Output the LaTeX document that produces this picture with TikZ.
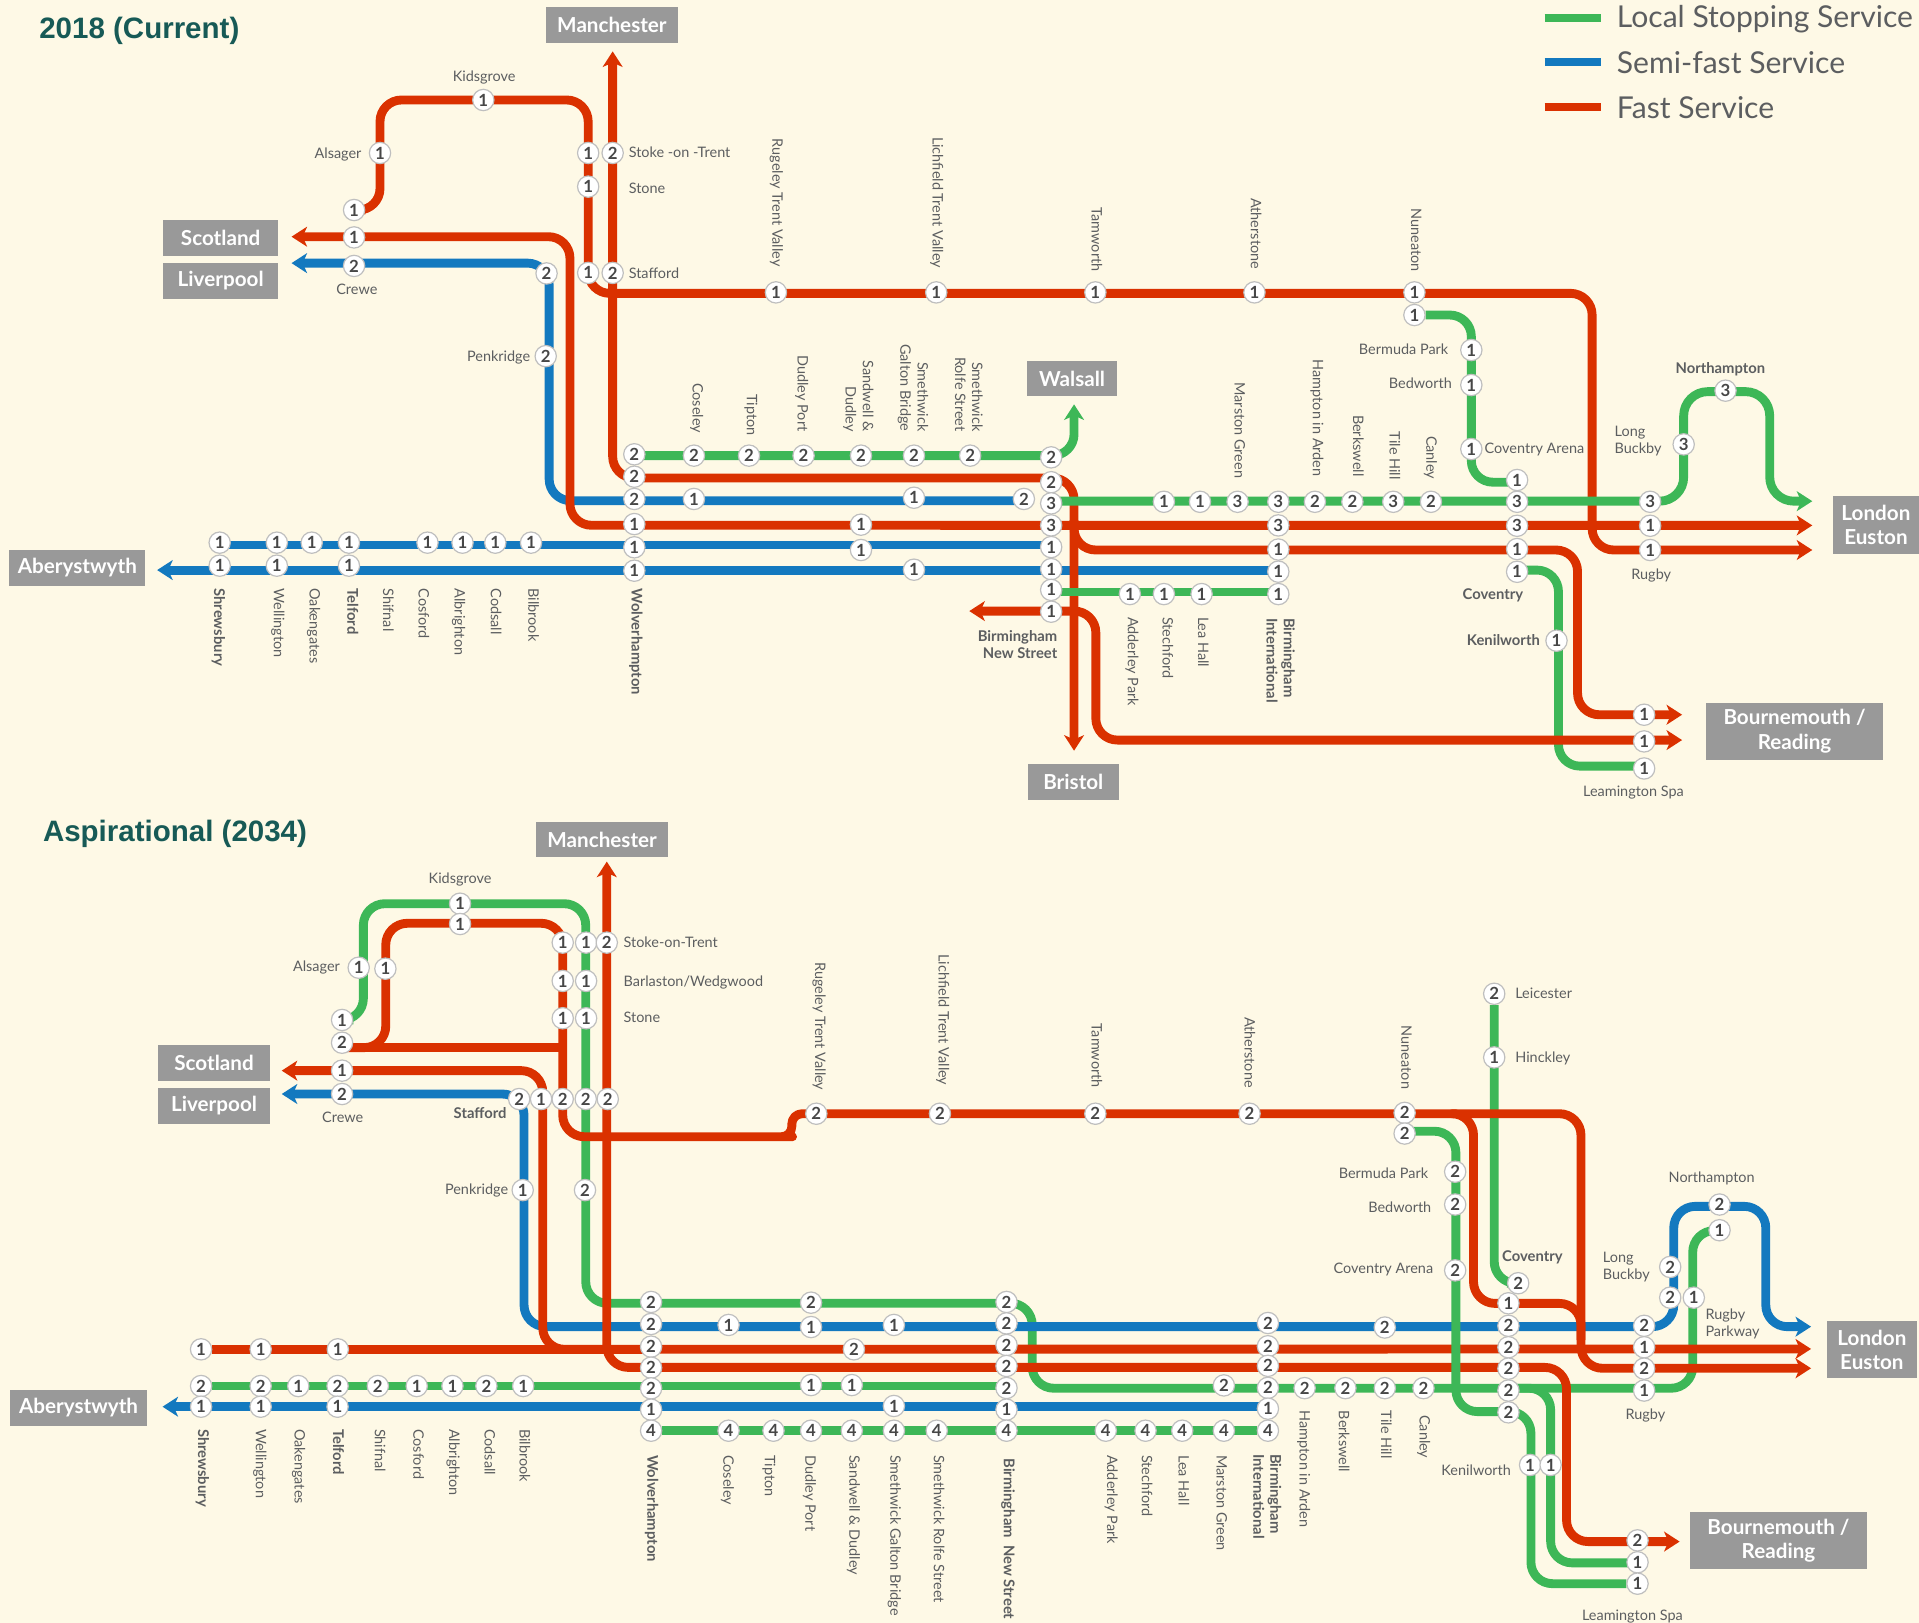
\documentclass[tikz,border=0pt]{standalone}
\usepackage{fontspec}
\setmainfont{Lato}
\newfontfamily\arialfont{Liberation Sans}
\usetikzlibrary{arrows.meta,backgrounds}
\definecolor{paper}{HTML}{FEF9E6}
\definecolor{railred}{HTML}{DA3100}
\definecolor{railblue}{HTML}{1379BF}
\definecolor{railgreen}{HTML}{3DB757}
\definecolor{boxgrey}{HTML}{999999}
\definecolor{titleteal}{HTML}{175A56}
\definecolor{labgrey}{HTML}{5C5E60}
\newcount\labc
\newcommand\lab[4][]{\global\advance\labc by 1 \node[stlabel,#1] (lab\the\labc) at (#2,#3) {#4};}
\newcommand\mk[4]{\node[mark node] (#1) at (#2,#3) {#4};}
\tikzset{
 x=0.05cm,y=-0.05cm,
 mark node/.style={circle,minimum size=24.8pt,inner sep=0pt,fill=white,draw=black!25,line width=1.4pt,font=\fontsize{19.5}{20}\selectfont\bfseries,text=black!72},
 stlabel/.style={inner sep=0pt,yshift=-1.2pt,text=labgrey,font=\fontsize{16.8}{20}\selectfont,text height=11.5pt,text depth=3pt},
 vd/.style={yshift=1.2pt,rotate=-90,anchor=west},
 vu/.style={yshift=1.2pt,rotate=-90,anchor=east},
 strong/.style={font=\fontsize{17.2}{20}\selectfont\bfseries},
 place box/.style={fill=boxgrey,text=white,font=\fontsize{24}{28.5}\selectfont\bfseries,inner sep=0pt,align=center},
 rail/.style={line width=10.3pt,rounded corners=25pt,line join=round},
 railr/.style={rail,draw=railred},
 railb/.style={rail,draw=railblue},
 railg/.style={rail,draw=railgreen},
 tip/.style={-{Stealth[length=18pt,width=23pt,inset=5pt]}},
 tipboth/.style={{Stealth[length=18pt,width=23pt,inset=5pt]}-{Stealth[length=18pt,width=23pt,inset=5pt]}},
 legend line/.style={line width=9.2pt},
 legend text/.style={inner sep=0pt,anchor=west,text=labgrey,font=\fontsize{35}{38}\selectfont},
 headline/.style={inner sep=0pt,anchor=west,text=titleteal,font=\fontsize{34.3}{37}\selectfont\arialfont\bfseries},
}
\begin{document}
\begin{tikzpicture}
\useasboundingbox (0,0) rectangle (1568,1326);
\begin{pgfonlayer}{background}
\fill[paper] (0,0) rectangle (1568,1326);
\end{pgfonlayer}

% ---- titles and legend
\node[headline] (title1) at (32,25.5) {2018 (Current)};
\node[headline] (title2) at (35,681.5) {Aspirational (2034)};
\coordinate (la1) at (1262,14.4); \coordinate (la2) at (1308,14.4);
\coordinate (lb1) at (1262,50.9); \coordinate (lb2) at (1308,50.9);
\coordinate (lc1) at (1262,87.4); \coordinate (lc2) at (1308,87.4);
\draw[legend line,railgreen] (la1) -- (la2);
\draw[legend line,railblue] (lb1) -- (lb2);
\draw[legend line,railred] (lc1) -- (lc2);
\node[legend text] (legA) at (1321,16) {Local Stopping Service};
\node[legend text] (legB) at (1321,51) {Semi-fast Service};
\node[legend text] (legC) at (1321,88) {Fast Service};

% ---- place boxes, top
\node[place box,minimum width=108.3pt*1.417,minimum height=41pt] (bxM) at (500,20.5) {Manchester};
\node[place box,minimum width=133.5pt,minimum height=41.6pt] (bxS) at (180.3,194.5) {Scotland};
\node[place box,minimum width=133.5pt,minimum height=41.6pt] (bxL) at (180.3,229.5) {Liverpool};
\node[place box,minimum width=105.3pt,minimum height=41pt] (bxW) at (876,309.5) {Walsall};
\node[place box,minimum width=158pt,minimum height=41.6pt] (bxA) at (63.2,464) {Aberystwyth};
\node[place box,minimum width=99.8pt,minimum height=66.7pt] (bxE) at (1532.8,428.9) {London\\Euston};
\node[place box,minimum width=205.8pt,minimum height=66.7pt] (bxB) at (1466.3,597.5) {Bournemouth /\\Reading};
\node[place box,minimum width=105.3pt,minimum height=41pt] (bxBr) at (877,639) {Bristol};
% ---- place boxes, bottom
\node[place box,minimum width=153.5pt,minimum height=41pt] (bxM2) at (492,686) {Manchester};
\node[place box,minimum width=131.2pt,minimum height=41.6pt] (bxS2) at (174.9,868.5) {Scotland};
\node[place box,minimum width=131.2pt,minimum height=41.6pt] (bxL2) at (174.9,903.6) {Liverpool};
\node[place box,minimum width=158.7pt,minimum height=41.6pt] (bxA2) at (64.2,1150.3) {Aberystwyth};
\node[place box,minimum width=104.3pt,minimum height=66.2pt] (bxE2) at (1529.5,1103) {London\\Euston};
\node[place box,minimum width=205.2pt,minimum height=66.6pt] (bxB2) at (1453.2,1258.9) {Bournemouth /\\Reading};

% ---- arrow tips
\coordinate (tM) at (500.6,42);
\coordinate (tS) at (238.2,193.4);
\coordinate (tL) at (238.2,215);
\coordinate (tW) at (877.6,330.4);
\coordinate (tA) at (128.4,465.8);
\coordinate (tN) at (792,499.3);
\coordinate (tBr) at (877.6,613.4);
\coordinate (tE1) at (1480.8,409.5);
\coordinate (tE2) at (1480.8,429.3);
\coordinate (tE3) at (1480.8,449.4);
\coordinate (tB1) at (1374.4,584);
\coordinate (tB2) at (1374.4,604.7);
\coordinate (bM) at (495.8,704);
\coordinate (bS) at (230.2,874.8);
\coordinate (bL) at (230.2,893.9);
\coordinate (bA) at (132.8,1149.4);
\coordinate (bE1) at (1479.8,1084);
\coordinate (bE2) at (1479.8,1102.2);
\coordinate (bE3) at (1479.8,1118);
\coordinate (bB) at (1372.4,1259.6);

% ---- markers, top
\mk{tk}{394.9}{81.7}{1}\mk{tal}{310.5}{125}{1}\mk{tcr}{289.3}{171.6}{1}\mk{tsc}{289.3}{194}{1}\mk{tli}{289.3}{217.3}{2}
\mk{ts1}{480.6}{125}{1}\mk{ts2}{500.6}{125}{2}\mk{tst}{480.6}{152.5}{1}\mk{tf1}{480.6}{223}{1}\mk{tf2}{500.6}{223}{2}
\mk{tbl}{446.6}{223.4}{2}\mk{tpe}{445.9}{291}{2}
\mk{tru}{634}{238.9}{1}\mk{tlt}{765}{238.9}{1}\mk{tta}{895}{238.9}{1}\mk{tat}{1025}{238.9}{1}\mk{tnu}{1155.7}{238.9}{1}
\mk{tnv}{1155.7}{257.4}{1}\mk{tbp}{1202.2}{286}{1}\mk{tbd}{1202.2}{314.6}{1}\mk{tca}{1202.2}{366.9}{1}
\mk{tc1}{1239.6}{392.2}{1}\mk{tc2}{1239.6}{410}{3}\mk{tc3}{1239.6}{429.6}{3}\mk{tc4}{1239.6}{448.6}{1}\mk{tc5}{1239.6}{467.2}{1}
\mk{tr1}{1348.3}{410}{3}\mk{tr2}{1348.3}{429.6}{1}\mk{tr3}{1348.3}{449.4}{1}
\mk{tlb}{1375.7}{363.1}{3}\mk{tno}{1409.9}{319.2}{3}
\mk{tke}{1271.8}{523.5}{1}\mk{te1}{1343.4}{584}{1}\mk{te2}{1343.4}{605.8}{1}\mk{te3}{1343.4}{627.9}{1}
\mk{tw1}{518.3}{371.2}{2}\mk{tw2}{518.3}{389.5}{2}\mk{tw3}{518.3}{407.7}{2}\mk{tw4}{518.3}{428.2}{1}\mk{tw5}{518.3}{447.2}{1}\mk{tw6}{518.3}{466.3}{1}
\mk{tg1}{567}{372.3}{2}\mk{tg2}{612}{372.3}{2}\mk{tg3}{656.6}{372.3}{2}\mk{tg4}{703.5}{372.3}{2}\mk{tg5}{746.8}{372.3}{2}\mk{tg6}{792.7}{372.3}{2}
\mk{tn1}{858.9}{373.7}{2}\mk{tn2}{858.9}{394}{2}\mk{tn3}{858.9}{411.3}{3}\mk{tn4}{858.9}{429.3}{3}\mk{tn5}{858.9}{447}{1}\mk{tn6}{858.9}{465}{1}\mk{tn7}{858.9}{482}{1}\mk{tn8}{858.9}{499.8}{1}
\mk{tb1}{567}{407.7}{1}\mk{tb2}{746.8}{406.7}{1}\mk{tb3}{836.6}{407.7}{2}
\mk{tx1}{703.5}{428.7}{1}\mk{tx2}{703.5}{449.4}{1}\mk{tx3}{746.8}{465.5}{1}
\mk{th1}{951}{410}{1}\mk{th2}{980.5}{410}{1}\mk{th3}{1011.2}{410}{3}\mk{th4}{1044.5}{410}{3}\mk{th5}{1074.4}{410}{2}\mk{th6}{1105}{410}{2}\mk{th7}{1138.4}{410}{3}\mk{th8}{1169.2}{410}{2}
\mk{ti1}{1044.5}{429.3}{3}\mk{ti2}{1044.5}{449}{1}\mk{ti3}{1044.5}{467.1}{1}\mk{ti4}{1044.5}{485.4}{1}
\mk{tj1}{923.2}{485.4}{1}\mk{tj2}{951}{485.4}{1}\mk{tj3}{981.8}{485.4}{1}
\mk{ta1}{179.5}{443.4}{1}\mk{ta2}{226.2}{443.4}{1}\mk{ta3}{254.7}{443.4}{1}\mk{ta4}{285.1}{443.4}{1}\mk{ta5}{349.3}{443.4}{1}\mk{ta6}{377.9}{443.4}{1}\mk{ta7}{404.7}{443.4}{1}\mk{ta8}{433.9}{443.4}{1}
\mk{tz1}{179.5}{462.2}{1}\mk{tz2}{226.2}{462.2}{1}\mk{tz3}{285.1}{462.2}{1}

% ---- markers, bottom
\mk{bk1}{375.9}{738.4}{1}\mk{bk2}{375.9}{755}{1}\mk{bal}{293.1}{790.7}{1}\mk{bal2}{314.9}{791.5}{1}
\mk{bcg}{279.5}{833.4}{1}\mk{bcr}{279.5}{852}{2}\mk{bsc}{279.5}{874.8}{1}\mk{bli}{279.5}{893.9}{2}
\mk{bs1}{459.8}{770.2}{1}\mk{bs2}{478.9}{770.2}{1}\mk{bs3}{495.8}{770.2}{2}
\mk{bb1}{459.8}{801.5}{1}\mk{bb2}{478.9}{801.5}{1}\mk{bo1}{459.8}{832}{1}\mk{bo2}{478.9}{832}{1}
\mk{bf1}{424.2}{898}{2}\mk{bf2}{442.1}{898}{1}\mk{bf3}{459.8}{898}{2}\mk{bf4}{478.6}{898}{2}\mk{bf5}{496.6}{898}{2}
\mk{bpe}{427.1}{972.4}{1}\mk{bpg}{478}{972.4}{2}
\mk{bru}{667}{910}{2}\mk{blt}{768}{910}{2}\mk{bta}{895}{910}{2}\mk{bat}{1021}{910}{2}\mk{bnu}{1147.7}{909.3}{2}\mk{bnv}{1147.7}{926.2}{2}
\mk{bbp}{1189}{957.4}{2}\mk{bbd}{1189}{984.2}{2}\mk{bca}{1189}{1038}{2}
\mk{ble}{1220.9}{812}{2}\mk{bhi}{1220.9}{864}{1}\mk{bco}{1240.5}{1048.5}{2}
\mk{bc1}{1232.5}{1064.9}{1}\mk{bc2}{1232.5}{1083.3}{2}\mk{bc3}{1232.5}{1100.8}{2}\mk{bc4}{1232.5}{1118.3}{2}\mk{bc5}{1232.5}{1136.2}{2}\mk{bc6}{1232.5}{1154}{2}
\mk{br1}{1343.4}{1083.3}{2}\mk{br2}{1343.4}{1100.8}{1}\mk{br3}{1343.4}{1118.3}{2}\mk{br4}{1343.4}{1136.2}{1}
\mk{bno}{1405}{984.2}{2}\mk{bno2}{1405}{1005.2}{1}\mk{blb}{1364.7}{1035.2}{2}\mk{blc}{1364.7}{1060.3}{2}\mk{bld}{1384}{1060.3}{1}
\mk{bke1}{1250.2}{1197}{1}\mk{bke2}{1267}{1197}{1}\mk{be1}{1338}{1258.6}{2}\mk{be2}{1338}{1276.5}{1}\mk{be3}{1338}{1294}{1}
\mk{bw1}{532}{1063.8}{2}\mk{bw2}{532}{1081.8}{2}\mk{bw3}{532}{1100.3}{2}\mk{bw4}{532}{1117.5}{2}\mk{bw5}{532}{1134.4}{2}\mk{bw6}{532}{1151.8}{1}\mk{bw7}{532}{1169}{4}
\mk{bn1}{822.4}{1063.8}{2}\mk{bn2}{822.4}{1081.3}{2}\mk{bn3}{822.4}{1099}{2}\mk{bn4}{822.4}{1116.1}{2}\mk{bn5}{822.4}{1134.1}{2}\mk{bn6}{822.4}{1151.8}{1}\mk{bn7}{822.4}{1169}{4}
\mk{bi1}{1036}{1081}{2}\mk{bi2}{1036}{1100}{2}\mk{bi3}{1036}{1116}{2}\mk{bi4}{1036}{1134}{2}\mk{bi5}{1036}{1151}{1}\mk{bi6}{1036}{1169}{4}
\mk{bx1}{662.7}{1064.4}{2}\mk{bx2}{595.3}{1082.6}{1}\mk{bx3}{662.7}{1084.3}{1}\mk{bx4}{730.4}{1082.6}{1}\mk{bx5}{697.7}{1102.5}{2}\mk{bx6}{662.7}{1131.7}{1}\mk{bx7}{696}{1131.7}{1}\mk{bx8}{730.4}{1148.8}{1}
\mk{bx9}{1131.5}{1084.7}{2}
\mk{by1}{595.3}{1169}{4}\mk{by2}{632}{1169}{4}\mk{by3}{662.7}{1169}{4}\mk{by4}{696}{1169}{4}\mk{by5}{730.4}{1169}{4}\mk{by6}{765.4}{1169}{4}\mk{by7}{903.5}{1169}{4}\mk{by8}{936}{1169}{4}\mk{by9}{966}{1169}{4}\mk{by0}{1000}{1169}{4}
\mk{bg1}{1000}{1132}{2}\mk{bg2}{1066}{1134.2}{2}\mk{bg3}{1099.3}{1134.2}{2}\mk{bg4}{1131.5}{1134.2}{2}\mk{bg5}{1163.1}{1134.2}{2}
\mk{bd1}{164.3}{1102.5}{1}\mk{bd2}{213}{1102.5}{1}\mk{bd3}{276}{1102.5}{1}
\mk{ba1}{164.3}{1132.5}{2}\mk{ba2}{213}{1132.5}{2}\mk{ba3}{243.7}{1132.5}{1}\mk{ba4}{275.8}{1132.5}{2}\mk{ba5}{308.7}{1132.5}{2}\mk{ba6}{340.5}{1132.5}{1}\mk{ba7}{369.7}{1132.5}{1}\mk{ba8}{397.4}{1132.5}{2}\mk{ba9}{427.5}{1132.5}{1}
\mk{bz1}{164.3}{1149.4}{1}\mk{bz2}{213}{1149.4}{1}\mk{bz3}{275.8}{1149.4}{1}

% ---- connectors (under the markers)
\begin{pgfonlayer}{background}
% greens that lie under the other lines
\draw[railg] (tc5 |- 0,465.8) -- (1273.4,465.8) -- (1273.4,626) -- (te3 |- 0,626);
\draw[railg] (bcg) -- (296.9,833.4) -- (296.9,738.4) -- (478.6,738.4) -- (478.6,1064.9) -- (843.4,1064.9) -- (843.4,1134.3) -- (1383.1,1134.3) -- (1383.1,1005.5) -- (bno2 |- 0,1005.5);
\draw[railg] (ba1) -- (bn5 |- 0,1132.5);
\draw[railg] (bw7) -- (bi6);
\draw[railg] (ble) -- (1220.9,1048.5) -- (bco);
\draw[railg] (bc5 |- 0,1134.3) -- (1267,1134.3) -- (1267,1277) -- (be2 |- 0,1277);
% blues
\draw[railb,tip] (tb3 |- 0,409.1) -- (448.7,409.1) -- (448.7,215) -- (tL);
\draw[railb] (ta1 |- 0,445.3) -- (tn5 |- 0,445.3);
\draw[railb,tip] (ti3 |- 0,465.8) -- (tA);
\draw[railb,tip] (bi5 |- 0,1149.4) -- (bA);
\draw[railb,tipboth] (bL) -- (428.2,893.9) -- (428.2,1084) -- (1367.6,1084) -- (1367.6,985.7) -- (1442.8,985.7) -- (1442.8,1084) -- (bE1);
% reds, top
\draw[railr,tip] (tcr) -- (310.5,171.6) -- (310.5,81.7) -- (480.6,81.7) -- (480.6,239.7) -- (1300.9,239.7) -- (1300.9,449.4) -- (tE3);
\draw[railr,tipboth] (tM) -- (500.6,390.6) -- (877.6,390.6) -- (tBr);
\draw[railr,tipboth] (tS) -- (465.7,193.4) -- (465.7,429.2) -- (tE2);
\draw[railr,tip] (877.6,425) -- (877.6,449.4) -- (1289,449.4) -- (1289,584) -- (tB1);
\draw[railr,tipboth] (tN) -- (895.4,499.3) -- (895.4,604.7) -- (tB2);
% reds, bottom
\draw[railr,tip] (bcr |- 0,856) -- (315.2,856) -- (315.2,754.4) -- (459.8,754.4) -- (459.8,928.8) -- (630,928.8) [rounded corners=12pt] -- (647,928.8) -- (647,910) [rounded corners=25pt] -- (1291.8,910) -- (1291.8,1118) -- (bE3);
\draw[rail,draw=railred,rounded corners=0pt] (bcr |- 0,856) -- (bf3 |- 0,856);
\draw[railr] (1190,910) -- (1204,910) -- (1204,1065) -- (1291.8,1065) -- (1291.8,1095);
\draw[railr,tipboth] (bM) -- (495.8,1117.3) -- (1280,1117.3) -- (1280,1259.6) -- (bB);
\draw[railr,tipboth] (bS) -- (443.5,874.8) -- (443.5,1102.5) -- (bE2);
\draw[railr] (bd1) -- (bw3 |- 0,1102.5);
% greens on top
\draw[railg,tip] (tw1 |- 0,372.3) -- (877.6,372.3) -- (tW);
\draw[railg,rounded corners=28pt,tip] (tn3 |- 0,409.5) -- (1375.7,409.5) -- (1375.7,320) -- (1446,320) -- (1446,409.5) -- (tE1);
\draw[railg] (tnv) -- (1202.2,257.4) -- (1202.2,394) -- (tc1 |- 0,394);
\draw[railg] (tn7 |- 0,483.7) -- (ti4 |- 0,483.7);
\draw[railg] (bnv |- 0,924.3) -- (1189.6,924.3) -- (1189.6,1153.4) -- (1250.9,1153.4) -- (1250.9,1294) -- (be3);
\end{pgfonlayer}

% ---- labels, top
\lab{395.6}{62.7}{Kidsgrove}
\lab[anchor=east]{295.5}{125.3}{Alsager}
\lab[anchor=west]{513.6}{125}{Stoke -on -Trent}
\lab[anchor=west]{513.6}{154}{Stone}
\lab[anchor=west]{513.6}{223.4}{Stafford}
\lab{291.6}{236.4}{Crewe}
\lab[anchor=east]{433.4}{291.5}{Penkridge}
\lab[vu]{634}{218}{Rugeley Trent Valley}
\lab[vu]{765}{219}{Lichfield Trent Valley}
\lab[vu]{895}{222}{Tamworth}
\lab[vu]{1025}{220}{Atherstone}
\lab[vu]{1156}{222}{Nuneaton}
\lab[vu]{569}{354}{Coseley}
\lab[vu]{613.3}{356}{Tipton}
\lab[vu]{654.7}{352.7}{Dudley Port}
\lab[vu,align=right]{694}{352.7}{Sandwell \&\\Dudley}
\lab[vu,align=right]{738.7}{352.7}{Smethwick\\Galton Bridge}
\lab[vu,align=right]{783.3}{352.7}{Smethwick\\Rolfe Street}
\lab[vu]{1011.8}{390.9}{Marston Green}
\lab[vu]{1075.8}{389.5}{Hampton in Arden}
\lab[vu]{1108.5}{389.5}{Berkswell}
\lab[vu]{1138.4}{392}{Tile Hill}
\lab[vu]{1168.4}{391.7}{Canley}
\lab[anchor=east]{1183.5}{286}{Bermuda Park}
\lab[anchor=east]{1186.4}{314}{Bedworth}
\lab[anchor=west]{1213}{367}{Coventry Arena}
\lab[anchor=west,align=left]{1319.2}{367}{Long\\Buckby}
\lab[strong]{1405.7}{301}{Northampton}
\lab{1349.2}{469.3}{Rugby}
\lab[strong,anchor=east]{1244.7}{486.2}{Coventry}
\lab[strong,anchor=east]{1258.3}{523.8}{Kenilworth}
\lab{1334.7}{647}{Leamington Spa}
\lab[strong,anchor=east,align=right]{864}{534}{Birmingham\\New Street}
\lab[vd,strong]{519}{480.7}{Wolverhampton}
\lab[vd,strong]{178}{480.7}{Shrewsbury}
\lab[vd]{226.7}{480.7}{Wellington}
\lab[vd]{256}{480.7}{Oakengates}
\lab[vd,strong]{286.8}{480.7}{Telford}
\lab[vd]{316}{480.7}{Shifnal}
\lab[vd]{345}{480.7}{Cosford}
\lab[vd]{374.4}{480.7}{Albrighton}
\lab[vd]{404}{480.7}{Codsall}
\lab[vd]{434.8}{480.7}{Bilbrook}
\lab[vd]{924.6}{504}{Adderley Park}
\lab[vd]{953}{504}{Stechford}
\lab[vd]{982}{504}{Lea Hall}
\lab[vd,strong,align=left]{1038}{505}{Birmingham\\International}

% ---- labels, bottom
\lab{375.9}{717.7}{Kidsgrove}
\lab[anchor=east]{277.9}{789.8}{Alsager}
\lab[anchor=west]{509.4}{770}{Stoke-on-Trent}
\lab[anchor=west]{509.4}{802}{Barlaston/Wedgwood}
\lab[anchor=west]{509.4}{832}{Stone}
\lab[strong,anchor=east]{414}{909.7}{Stafford}
\lab{280}{913}{Crewe}
\lab[anchor=east]{415.4}{972.4}{Penkridge}
\lab[vu]{669}{891}{Rugeley Trent Valley}
\lab[vu]{770}{887}{Lichfield Trent Valley}
\lab[vu]{895}{889}{Tamworth}
\lab[vu]{1020}{889}{Atherstone}
\lab[vu]{1148}{890}{Nuneaton}
\lab[anchor=west]{1238}{812}{Leicester}
\lab[anchor=west]{1238}{864}{Hinckley}
\lab[strong,anchor=west]{1227.3}{1027.2}{Coventry}
\lab[anchor=east]{1167}{959.3}{Bermuda Park}
\lab[anchor=east]{1169.6}{987}{Bedworth}
\lab[anchor=east]{1171.2}{1037}{Coventry Arena}
\lab[anchor=west,align=left]{1309.6}{1042}{Long\\Buckby}
\lab[anchor=west,align=left]{1393.4}{1088}{Rugby\\Parkway}
\lab{1398.6}{962.2}{Northampton}
\lab{1344.4}{1156.2}{Rugby}
\lab[anchor=east]{1234.7}{1202}{Kenilworth}
\lab{1333.8}{1320.5}{Leamington Spa}
\lab[vd,strong]{532}{1188.9}{Wolverhampton}
\lab[vd]{594}{1188.9}{Coseley}
\lab[vd]{628}{1188.9}{Tipton}
\lab[vd]{661}{1188.9}{Dudley Port}
\lab[vd]{696.9}{1188.9}{Sandwell \& Dudley}
\lab[vd]{730.4}{1188.9}{Smethwick Galton Bridge}
\lab[vd]{766}{1188.9}{Smethwick Rolfe Street}
\lab[vd,strong]{823.2}{1191.6}{Birmingham\ \ New Street}
\lab[vd]{907.6}{1188.9}{Adderley Park}
\lab[vd]{936}{1188.9}{Stechford}
\lab[vd]{966}{1188.9}{Lea Hall}
\lab[vd]{997}{1188.9}{Marston Green}
\lab[vd,strong,align=left]{1027}{1188}{Birmingham\\International}
\lab[vd]{1064.8}{1152.6}{Hampton in Arden}
\lab[vd]{1097}{1152.6}{Berkswell}
\lab[vd]{1131.5}{1152.6}{Tile Hill}
\lab[vd]{1163}{1156.2}{Canley}
\lab[vd,strong]{164.9}{1167.6}{Shrewsbury}
\lab[vd]{212}{1167.6}{Wellington}
\lab[vd]{243.7}{1167.6}{Oakengates}
\lab[vd,strong]{275.2}{1167.6}{Telford}
\lab[vd]{309.3}{1167.6}{Shifnal}
\lab[vd]{340.8}{1167.6}{Cosford}
\lab[vd]{370}{1167.6}{Albrighton}
\lab[vd]{398.9}{1167.6}{Codsall}
\lab[vd]{427.5}{1167.6}{Bilbrook}
\end{tikzpicture}
\end{document}
